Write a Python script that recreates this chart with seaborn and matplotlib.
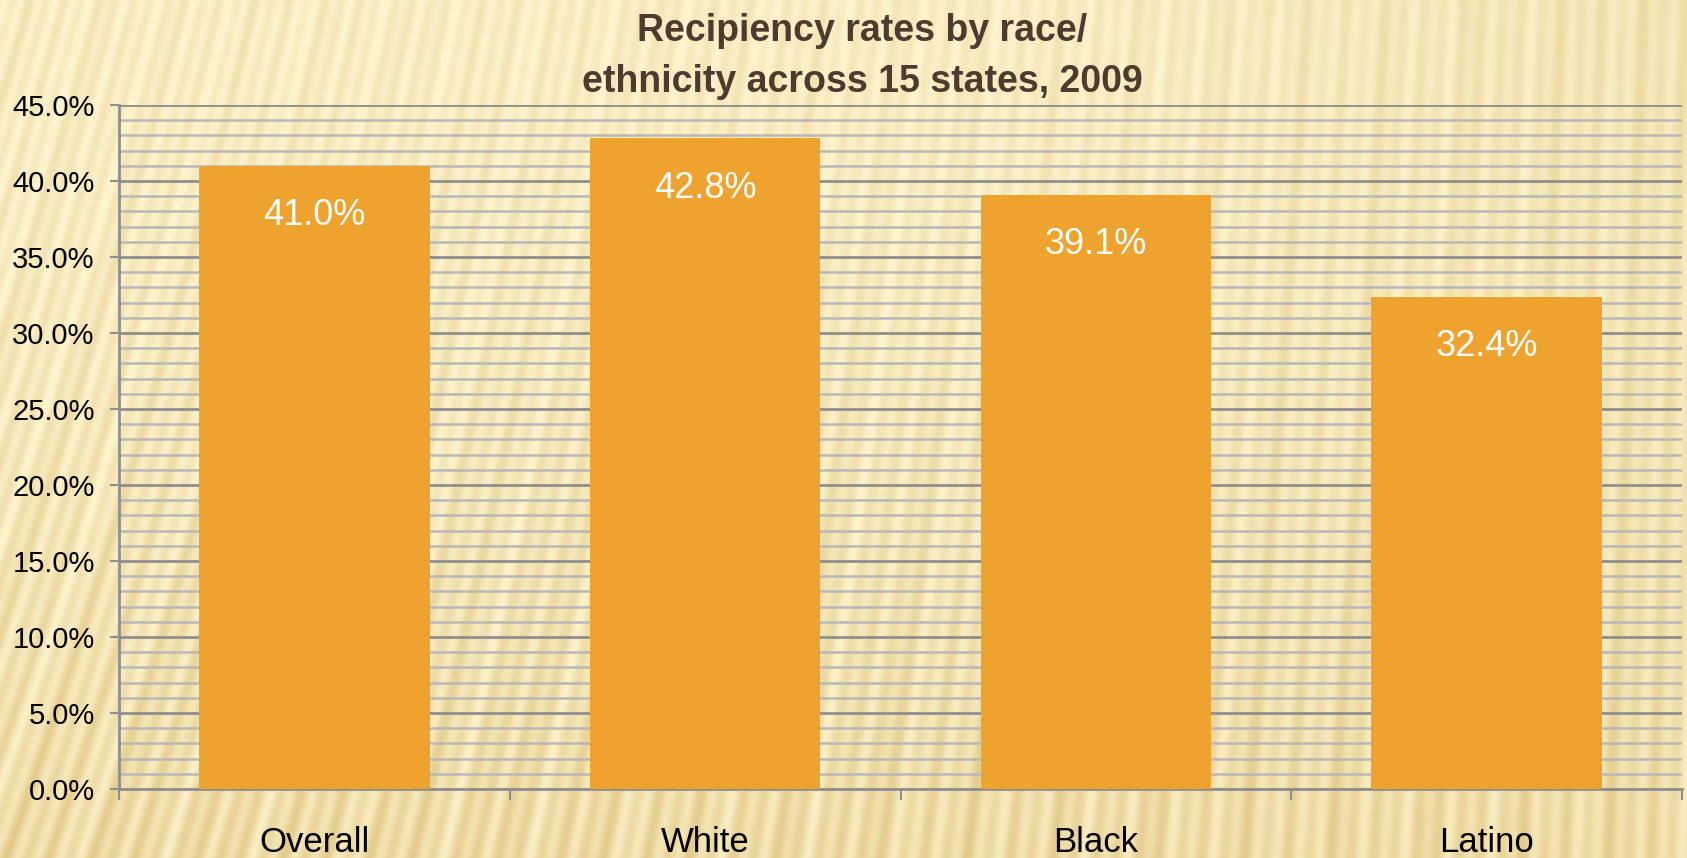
import numpy as np
import matplotlib
matplotlib.use("Agg")
import matplotlib.pyplot as plt
from matplotlib.ticker import MultipleLocator, FuncFormatter, FixedLocator
import seaborn as sns

# Data
categories = ["Overall", "White", "Black", "Latino"]
rates = [41.0, 42.8, 39.1, 32.4]
title_lines = ["Recipiency rates by race/", "ethnicity across 15 states, 2009"]

W, H = 1687, 858
sns.set_theme(style="white")
plt.rcParams["font.family"] = ["Liberation Sans", "DejaVu Sans"]

fig = plt.figure(figsize=(W / 100, H / 100), dpi=100)

# Streaked pale-gold backdrop
yy, xx = np.mgrid[0:H, 0:W].astype(float)
u = xx / W
v = yy / H
slant = 0.32 * (1 - u) ** 1.5 + 0.04
phase = xx - slant * (H - yy)
streak = (0.55 * np.sin(phase / 3.4) + 0.3 * np.sin(phase / 7.3 + 1.1)
          + 0.15 * np.sin(phase / 15.0 + 0.4))
streak = 0.5 + 0.5 * streak
amp = 0.45 + 0.25 * (1 - u) + 0.25 * v
tone = 0.25 + 0.65 * v ** 1.8 + 0.35 * np.clip(u - 0.6, 0, None) / 0.4 * (1 - v)
tone = np.clip(tone, 0, 1)
shade = np.clip(tone * (0.55 + 0.45 * streak) * 0.75 + amp * (streak - 0.5) * 0.6, 0, 1)
light = np.array([253, 243, 205]) / 255
dark = np.array([224, 199, 130]) / 255
bg = light * (1 - shade[..., None]) + dark * shade[..., None]
bg_ax = fig.add_axes([0, 0, 1, 1], zorder=-5)
bg_ax.imshow(bg, aspect="auto", interpolation="bilinear")
bg_ax.axis("off")

# Chart axes
left, right, top, bottom = 119, 1682, 105, 789
ax = fig.add_axes([left / W, (H - bottom) / H, (right - left) / W, (bottom - top) / H])
ax.patch.set_alpha(0)

sns.barplot(x=categories, y=rates, color="#EDA32E", saturation=1, width=0.59,
            linewidth=0, ax=ax, zorder=3)

ax.set_ylim(0, 45)
ax.set_xlim(-0.5, len(categories) - 0.5)
ax.yaxis.set_major_locator(MultipleLocator(5))
ax.yaxis.set_minor_locator(MultipleLocator(1))
ax.yaxis.set_major_formatter(FuncFormatter(lambda val, _: f"{val:.1f}%"))
ax.grid(which="major", axis="y", color="#8f8f8f", linewidth=2, zorder=1)
ax.grid(which="minor", axis="y", color="#b8b8b8", linewidth=1.8, zorder=1)
ax.grid(which="both", axis="x", visible=False)
ax.set_axisbelow(True)

for side in ["top", "right"]:
    ax.spines[side].set_visible(False)
for side in ["left", "bottom"]:
    ax.spines[side].set_color("#8f8f8f")
    ax.spines[side].set_linewidth(2)

ax.tick_params(axis="y", which="major", left=True, length=6.5, width=1.5,
               color="#8f8f8f", labelsize=21, pad=11, labelcolor="black")
ax.tick_params(axis="y", which="minor", left=False)

# Category boundaries carry the x tick marks
ax.xaxis.set_minor_locator(FixedLocator(np.arange(-0.5, len(categories), 1.0)))
ax.tick_params(axis="x", which="minor", bottom=True, length=8, width=1.5,
               color="#8f8f8f")
ax.tick_params(axis="x", which="major", bottom=False, length=0, pad=27,
               labelsize=25, labelcolor="black")
ax.set_xlabel("")
ax.set_ylabel("")

# Value labels inside the bars
for i, val in enumerate(rates):
    ax.annotate(f"{val:.1f}%", xy=(i, val), xytext=(0, -36), textcoords="offset points",
                ha="center", va="center", fontsize=26, color="white", zorder=4)

for line, base_y in zip(title_lines, [41, 92]):
    fig.text(862 / W, 1 - base_y / H, line, ha="center", va="baseline",
             fontsize=27, fontweight="bold", color="#4d3b2f")

fig.savefig("out.png", dpi=100)
